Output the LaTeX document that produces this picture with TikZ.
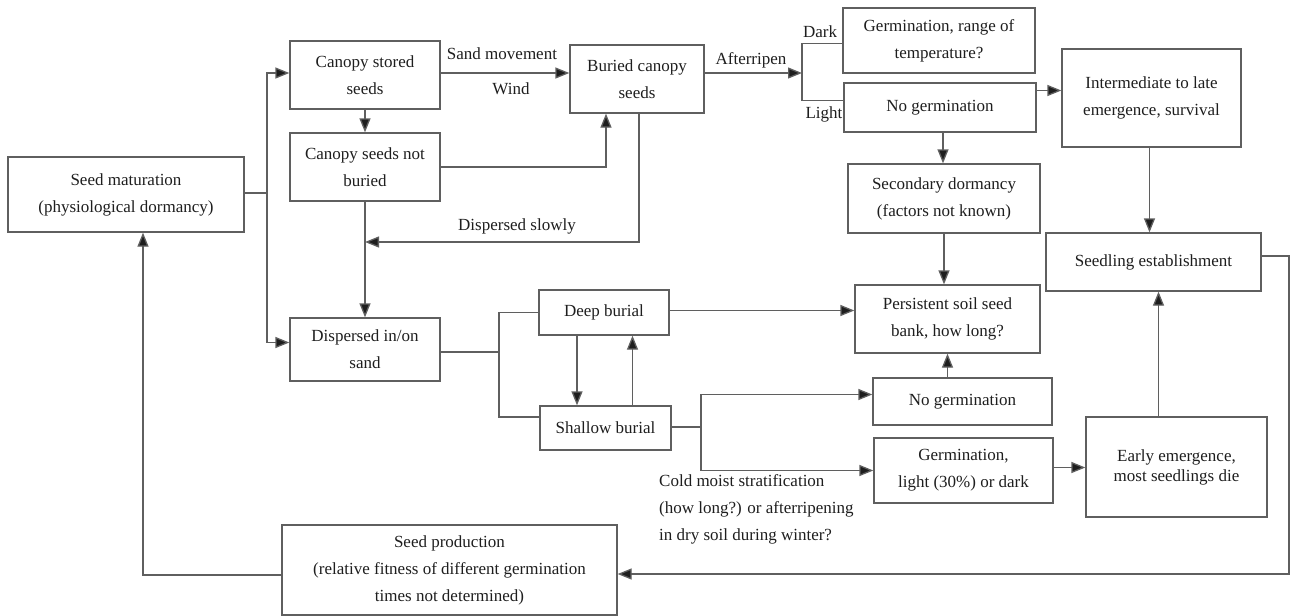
\documentclass[tikz,border=0pt]{standalone}
\usepackage{fontspec}
\setmainfont{Liberation Serif}
\usetikzlibrary{arrows.meta}

\definecolor{linec}{HTML}{5F5F5F}
\definecolor{textc}{HTML}{1E1E1E}

\tikzset{
  >={Triangle[length=14pt,width=11pt,fill=textc]},
  box/.style={draw=linec, line width=1.3pt, align=center, inner sep=0pt, text=textc,
    font=\fontsize{17}{27}\selectfont},
  lbl/.style={text=textc, inner sep=0pt, font=\fontsize{17}{27}\selectfont},
  conn/.style={draw=linec, line width=1.3pt}
}

\begin{document}
\begin{tikzpicture}[x=1pt,y=-1pt]
\useasboundingbox (0,0) rectangle (1291,616);

% Boxes, left part
\node[box, minimum width=236, minimum height=75] (mat) at (126,194.5) {Seed maturation\\(physiological dormancy)};
\node[box, minimum width=150, minimum height=68] (stored) at (365,75) {Canopy stored\\seeds};
\node[box, minimum width=150, minimum height=68] (notbur) at (365,167) {Canopy seeds not\\buried};
\node[box, minimum width=134, minimum height=68] (buried) at (637,79) {Buried canopy\\seeds};
\node[box, minimum width=150, minimum height=63] (disp) at (365,349.5) {Dispersed in/on\\sand};
\node[box, minimum width=130, minimum height=45] (deep) at (604,312.5) {Deep burial};
\node[box, minimum width=131, minimum height=44] (shallow) at (605.5,428) {Shallow burial};
\node[box, minimum width=335, minimum height=90] (prod) at (449.5,570) {Seed production\\(relative fitness of different germination\\times not determined)};

% Boxes, right part
\node[box, minimum width=192, minimum height=65] (germT) at (939,40.5) {Germination, range of\\temperature?};
\node[box, minimum width=192, minimum height=49] (nogermA) at (940,107.5) {No germination};
\node[box, minimum width=179, minimum height=98] (inter) at (1151.5,98) {Intermediate to late\\emergence, survival};
\node[box, minimum width=192, minimum height=69] (second) at (944,198.5) {Secondary dormancy\\(factors not known)};
\node[box, minimum width=185, minimum height=68] (persist) at (947.5,319) {Persistent soil seed\\bank, how long?};
\node[box, minimum width=215, minimum height=58] (seedl) at (1153.5,262) {Seedling establishment};
\node[box, minimum width=179, minimum height=47] (nogermB) at (962.5,401.5) {No germination};
\node[box, minimum width=179, minimum height=65] (germL) at (963.5,470.5) {Germination,\\light (30\%) or dark};
\node[box, minimum width=181, minimum height=100, font=\fontsize{17}{20}\selectfont] (early) at (1176.5,467) {Early emergence,\\most seedlings die};

% Labels
\node[lbl] (sand) at (502,54) {Sand movement};
\node[lbl] (wind) at (511,89) {Wind};
\node[lbl] (slow) at (517,226) {Dispersed slowly};
\node[lbl] (after) at (751,60) {Afterripen};
\node[lbl] (dark) at (820,32) {Dark};
\node[lbl] (light) at (824,114) {Light};
\node[lbl, anchor=north west, align=left] (cold) at (659,474) {Cold moist stratification\\(how long?) or afterripening\\in dry soil during winter?};

% Junctions
\coordinate (j1) at (267,193);
\coordinate (j2) at (365,242);
\coordinate (j3) at (499,352);
\coordinate (j4) at (701,427);
\coordinate (j5) at (802,73);
\coordinate (c1) at (1289,574);

% Connectors
\draw[conn] (mat.east |- j1) -- (j1);
\draw[conn,->] (j1) |- ([yshift=2pt]stored.west);
\draw[conn,->] (j1) |- ([yshift=7pt]disp.west);
\draw[conn,->] (stored) -- (notbur);
\draw[conn,->] ([yshift=2pt]stored.east) -- ([yshift=2pt]stored.east -| buried.west);
\draw[conn,->] (notbur.east) -| ([xshift=-31pt]buried.south);
\draw[conn,->] ([xshift=2pt]buried.south) |- (j2);
\draw[conn,->] (notbur) -- (disp);
\draw[conn] (disp.east |- j3) -- (j3);
\draw[conn] (j3) |- (deep.west);
\draw[conn] (j3) |- ([yshift=11pt]shallow.west);
\draw[conn,->] ([xshift=-27pt]deep.south) -- ([xshift=-27pt]deep.south |- shallow.north);
\draw[conn,->] ([xshift=27pt]shallow.north) -- ([xshift=27pt]shallow.north |- deep.south);
\draw[conn,->] ([yshift=2pt]deep.east) -- ([yshift=2pt]deep.east -| persist.west);
\draw[conn] (shallow.east |- j4) -- (j4);
\draw[conn,->] (j4) |- ([yshift=7pt]nogermB.west);
\draw[conn,->] (j4) |- (germL.west);
\draw[conn,->] (nogermB.north -| persist.south) -- (persist.south);
\draw[conn,->] ([yshift=3pt]germL.east) -- ([yshift=3pt]germL.east -| early.west);
\draw[conn,->] ([xshift=-18pt]early.north) -- ([xshift=-18pt]early.north |- seedl.south);
\draw[conn,->] (buried.east |- j5) -- (j5);
\draw[conn] (j5) |- ([yshift=-3pt]germT.west);
\draw[conn] (j5) |- ([yshift=7pt]nogermA.west);
\draw[conn,->] ([yshift=17pt]nogermA.east) -- ([yshift=17pt]nogermA.east -| inter.west);
\draw[conn,->] ([xshift=3pt]nogermA.south) -- ([xshift=3pt]nogermA.south |- second.north);
\draw[conn,->] (second.south) -- (second.south |- persist.north);
\draw[conn,->] ([xshift=-2pt]inter.south) -- ([xshift=-2pt]inter.south |- seedl.north);
\draw[conn,->] ([yshift=6pt]seedl.east) -| (c1) -- (c1 -| prod.east);
\draw[conn,->] ([yshift=-5pt]prod.west) -| ([xshift=17pt]mat.south);

\end{tikzpicture}
\end{document}
